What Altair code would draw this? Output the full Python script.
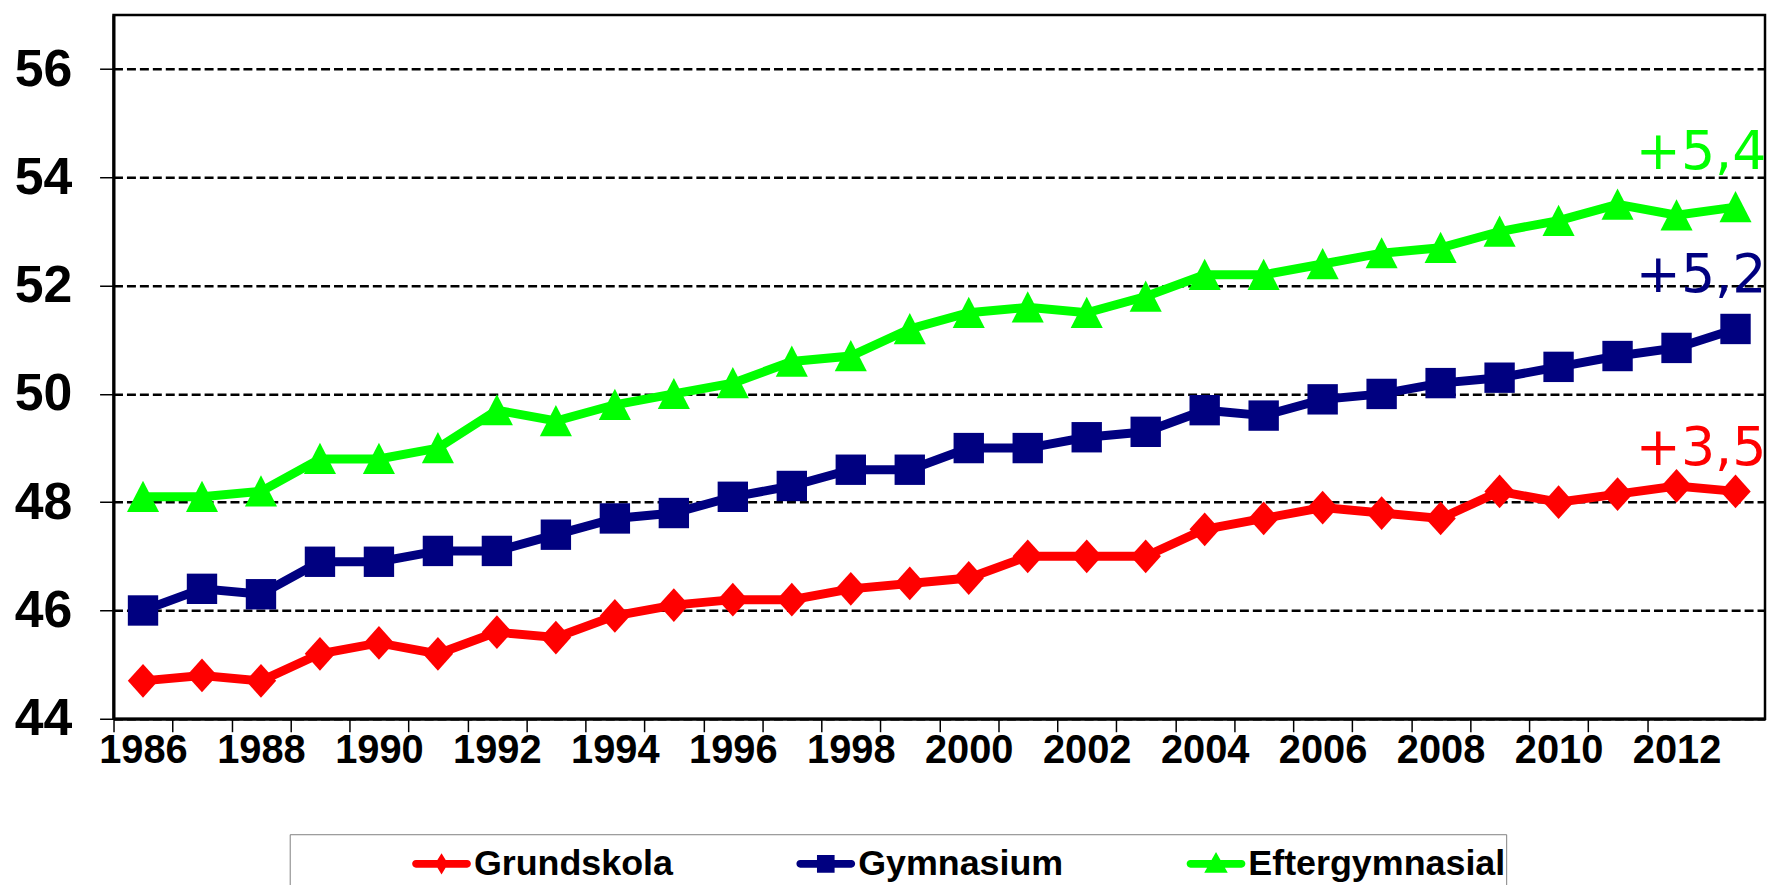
import altair as alt
import pandas as pd

years = list(range(1986, 2014))
grundskola = [44.7, 44.8, 44.7, 45.2, 45.4, 45.2, 45.6, 45.5, 45.9, 46.1, 46.2, 46.2, 46.4, 46.5,
              46.6, 47.0, 47.0, 47.0, 47.5, 47.7, 47.9, 47.8, 47.7, 48.2, 48.0, 48.15, 48.3, 48.2]
gymnasium = [46.0, 46.4, 46.3, 46.9, 46.9, 47.1, 47.1, 47.4, 47.7, 47.8, 48.1, 48.3, 48.6, 48.6,
             49.0, 49.0, 49.2, 49.3, 49.7, 49.6, 49.9, 50.0, 50.2, 50.3, 50.5, 50.7, 50.85, 51.2]
eftergymnasial = [48.1, 48.1, 48.2, 48.8, 48.8, 49.0, 49.7, 49.5, 49.8, 50.0, 50.2, 50.6, 50.7, 51.2,
                  51.5, 51.6, 51.5, 51.8, 52.2, 52.2, 52.4, 52.6, 52.7, 53.0, 53.2, 53.5, 53.3, 53.45]
series_names = ["Grundskola", "Gymnasium", "Eftergymnasial"]
series_colors = ["#FF0000", "#000080", "#00FF00"]
deltas = ["+3,5", "+5,2", "+5,4"]
y_ticks = [44, 46, 48, 50, 52, 54, 56]

rows = []
for name, vals in zip(series_names, [grundskola, gymnasium, eftergymnasial]):
    for yr, v in zip(years, vals):
        rows.append({"year": yr, "value": v, "series": name})
df = pd.DataFrame(rows)

ann = pd.DataFrame({
    "series": series_names,
    "year": [years[-1]] * 3,
    "value": [grundskola[-1], gymnasium[-1], eftergymnasial[-1]],
    "label": deltas,
})

# marker shapes (unit box)
P_DIAMOND = "M0,-1L0.9,0L0,1L-0.9,0Z"
P_SQUARE = "M-0.9,-0.9L0.9,-0.9L0.9,0.9L-0.9,0.9Z"
P_TRI = "M0,-0.95L0.95,0.9L-0.95,0.9Z"

# legend symbols: line + marker
LINE = "M-0.87,-0.13L0.87,-0.13A0.13,0.13 0 0 1 0.87,0.13L-0.87,0.13A0.13,0.13 0 0 1 -0.87,-0.13Z"
L_G = LINE + "M0,-0.36L0.22,0L0,0.36L-0.22,0Z"
L_Y = LINE + "M-0.3,-0.3L0.3,-0.3L0.3,0.3L-0.3,0.3Z"
L_E = LINE + "M0,-0.4L0.4,0.3L-0.4,0.3Z"
sym_expr = ("datum.value === 'Grundskola' ? '%s' : datum.value === 'Gymnasium' ? '%s' : '%s'"
            % (L_G, L_Y, L_E))

tick_vals = [y - 0.5 for y in years[:-1]]

x_enc = alt.X("year:Q",
              scale=alt.Scale(domain=[years[0] - 0.5, years[-1] + 0.5], nice=False, zero=False),
              axis=alt.Axis(values=tick_vals, title=None,
                            labelExpr="(datum.value + 0.5) % 2 == 0 ? format(datum.value + 0.5, 'd') : ''",
                            labelOffset=29.6, labelFlush=False, labelOverlap=False,
                            tickSize=13, labelPadding=-1, labelFontSize=40, grid=False))
y_enc = alt.Y("value:Q",
              scale=alt.Scale(domain=[44, 57], nice=False, zero=False),
              axis=alt.Axis(values=y_ticks, title=None, format="d",
                            tickSize=14, labelPadding=28, labelFontSize=52,
                            grid=True, gridColor="black", gridWidth=2.5, gridDash=[9, 4]))

color_scale = alt.Scale(domain=series_names, range=series_colors)

nbsp = "\u00a0" * 12
legend = alt.Legend(
    orient="none", legendX=177, legendY=823, direction="horizontal",
    title="\u00a0", titleOrient="bottom", titleFontSize=30, titlePadding=10,
    symbolType={"expr": sym_expr}, symbolSize=3481, symbolStrokeWidth=0,
    symbolOffset=123, padding=0, columnPadding=0, labelOffset=3,
    labelFont="Liberation Sans", labelFontSize=36, labelFontWeight="bold", labelColor="black",
    labelLimit=800, labelExpr="datum.label == 'Eftergymnasial' ? datum.label + '%s' : datum.label" % nbsp,
    strokeColor="#808080",
)

line_layers = []
for name, col in zip(series_names, series_colors):
    line_layers.append(
        alt.Chart(df).transform_filter(alt.datum.series == name)
        .mark_line(strokeWidth=9, color=col)
        .encode(x=x_enc, y=y_enc)
    )

# shape scale uses its own domain order so it is not merged with the colour legend
shape_order = ["Eftergymnasial", "Grundskola", "Gymnasium"]
shape_paths = {"Grundskola": P_DIAMOND, "Gymnasium": P_SQUARE, "Eftergymnasial": P_TRI}
points = alt.Chart(df).mark_point(filled=True, size=1150, opacity=1, strokeWidth=0).encode(
    x=x_enc, y=y_enc,
    color=alt.Color("series:N", scale=color_scale, legend=legend),
    shape=alt.Shape("series:N",
                    scale=alt.Scale(domain=shape_order, range=[shape_paths[s] for s in shape_order]),
                    legend=None),
)

texts = []
for name, col, dy in zip(series_names, series_colors, [-26.5, -37.5, -38]):
    t = alt.Chart(ann).transform_filter(alt.datum.series == name).mark_text(
        font="DejaVu Sans", fontSize=54, color=col, align="right", baseline="alphabetic",
        dx=31, dy=dy,
    ).encode(x="year:Q", y="value:Q", text="label:N")
    texts.append(t)

chart = alt.layer(*line_layers, points, *texts).properties(
    width=1659, height=707,
    autosize=alt.AutoSizeParams(type="none"),
    padding={"left": 106, "top": 5, "right": 2, "bottom": 165},
).configure_view(
    stroke="black", strokeWidth=2.5
).configure_axis(
    labelFont="Liberation Sans", labelFontWeight="bold", labelColor="black",
    domainColor="black", domainWidth=3, tickColor="black", tickWidth=1.5,
)

chart.save("out.html", embed_options={"renderer": "svg", "actions": False})
